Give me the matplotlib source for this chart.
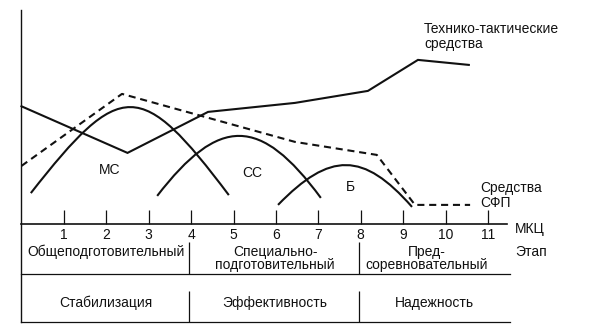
import matplotlib.pyplot as plt
from matplotlib.path import Path
from matplotlib.patches import PathPatch

plt.rcParams['font.family'] = ['Liberation Sans', 'DejaVu Sans']

# technical-tactical means (solid polyline)
tt_x = [0.0, 2.5, 4.4, 6.45, 8.17, 9.35, 10.55]
tt_y = [59.0, 35.7, 56.2, 60.7, 66.7, 82.2, 79.7]

# general physical training means (dashed polyline)
sfp_x = [0.0, 2.37, 6.45, 8.38, 9.28, 10.58]
sfp_y = [29.2, 65.2, 41.2, 34.7, 9.7, 9.7]

# arcs: start, peak, end  (x, y)
arc_names = ["МС", "СС", "Б"]
arc_start = [(0.22, 15.6), (3.20, 14.2), (6.05, 9.7)]
arc_peak = [(2.58, 58.6), (5.15, 44.2), (7.68, 29.6)]
arc_end = [(4.89, 14.6), (7.06, 13.2), (9.21, 8.7)]
arc_label_pos = [(2.09, 27.1), (5.44, 25.6), (7.75, 18.6)]

mkc = list(range(1, 12))
stages = ["Общеподготовительный", "Специально-\nподготовительный", "Пред-\nсоревновательный"]
stage_x = [2.0, 5.98, 9.56]
aims = ["Стабилизация", "Эффективность", "Надежность"]
aim_x = [2.0, 5.98, 9.75]
dividers = [3.95, 7.95]

fig = plt.figure(figsize=(5.92, 3.29), dpi=100)
ax = fig.add_axes([0, 0, 1, 1])
ax.set_xlim(-0.507, 13.455)
ax.set_ylim(-52.35, 112.15)
ax.axis('off')

col = '#111111'
fs = 10

ax.plot(tt_x, tt_y, color=col, lw=1.5, solid_joinstyle='miter')
ax.plot(sfp_x, sfp_y, color=col, lw=1.5, linestyle=(0, (3.4, 2.3)))

# arcs as cubic bezier curves
shape = [0.9, 0.75, 0.75]
for s, p, e, k in zip(arc_start, arc_peak, arc_end, shape):
    cy = (8 * p[1] - s[1] - e[1]) / 6.0
    c1 = (s[0] + k * (p[0] - s[0]), cy)
    c2 = (e[0] - k * (e[0] - p[0]), cy)
    path = Path([s, c1, c2, e], [Path.MOVETO, Path.CURVE4, Path.CURVE4, Path.CURVE4])
    ax.add_patch(PathPatch(path, fill=False, edgecolor=col, lw=1.5))

for name, (lx, ly) in zip(arc_names, arc_label_pos):
    ax.text(lx, ly, name, fontsize=fs, ha='center', va='center', color=col)

ax.text(9.49, 93.9, "Технико-тактические\nсредства", fontsize=fs, ha='left', va='center',
        color=col, linespacing=1.08)
ax.text(10.81, 14.4, "Средства\nСФП", fontsize=fs, ha='left', va='center',
        color=col, linespacing=1.08)

# axis and ticks
ax.plot([0, 0], [107.1, -49], color=col, lw=1.0)
ax.plot([0, 11.45], [0, 0], color=col, lw=1.2)
ax.vlines(mkc, 0, 7.15, color=col, lw=0.9)
for m in mkc:
    ax.text(m, -5.35, str(m), fontsize=fs, ha='center', va='center', color=col)
ax.text(11.64, -2.35, "МКЦ", fontsize=fs, ha='left', va='center', color=col)
ax.text(11.64, -13.85, "Этап", fontsize=fs, ha='left', va='center', color=col)

# table
ax.plot([0, 11.52], [-24.7, -24.7], color=col, lw=0.9)
ax.plot([0, 11.52], [-49, -49], color=col, lw=0.9)
ax.vlines(dividers, -8.85, -24.7, color=col, lw=0.9)
ax.vlines(dividers, -33.35, -49, color=col, lw=0.9)

for sx, st in zip(stage_x, stages):
    yy = -13.85 if "\n" not in st else -17.1
    ax.text(sx, yy, st, fontsize=fs, ha='center', va='center', color=col,
            multialignment='center', linespacing=0.94)
for axx, a in zip(aim_x, aims):
    ax.text(axx, -39.35, a, fontsize=fs, ha='center', va='center', color=col)

fig.savefig("out.png", dpi=100)
